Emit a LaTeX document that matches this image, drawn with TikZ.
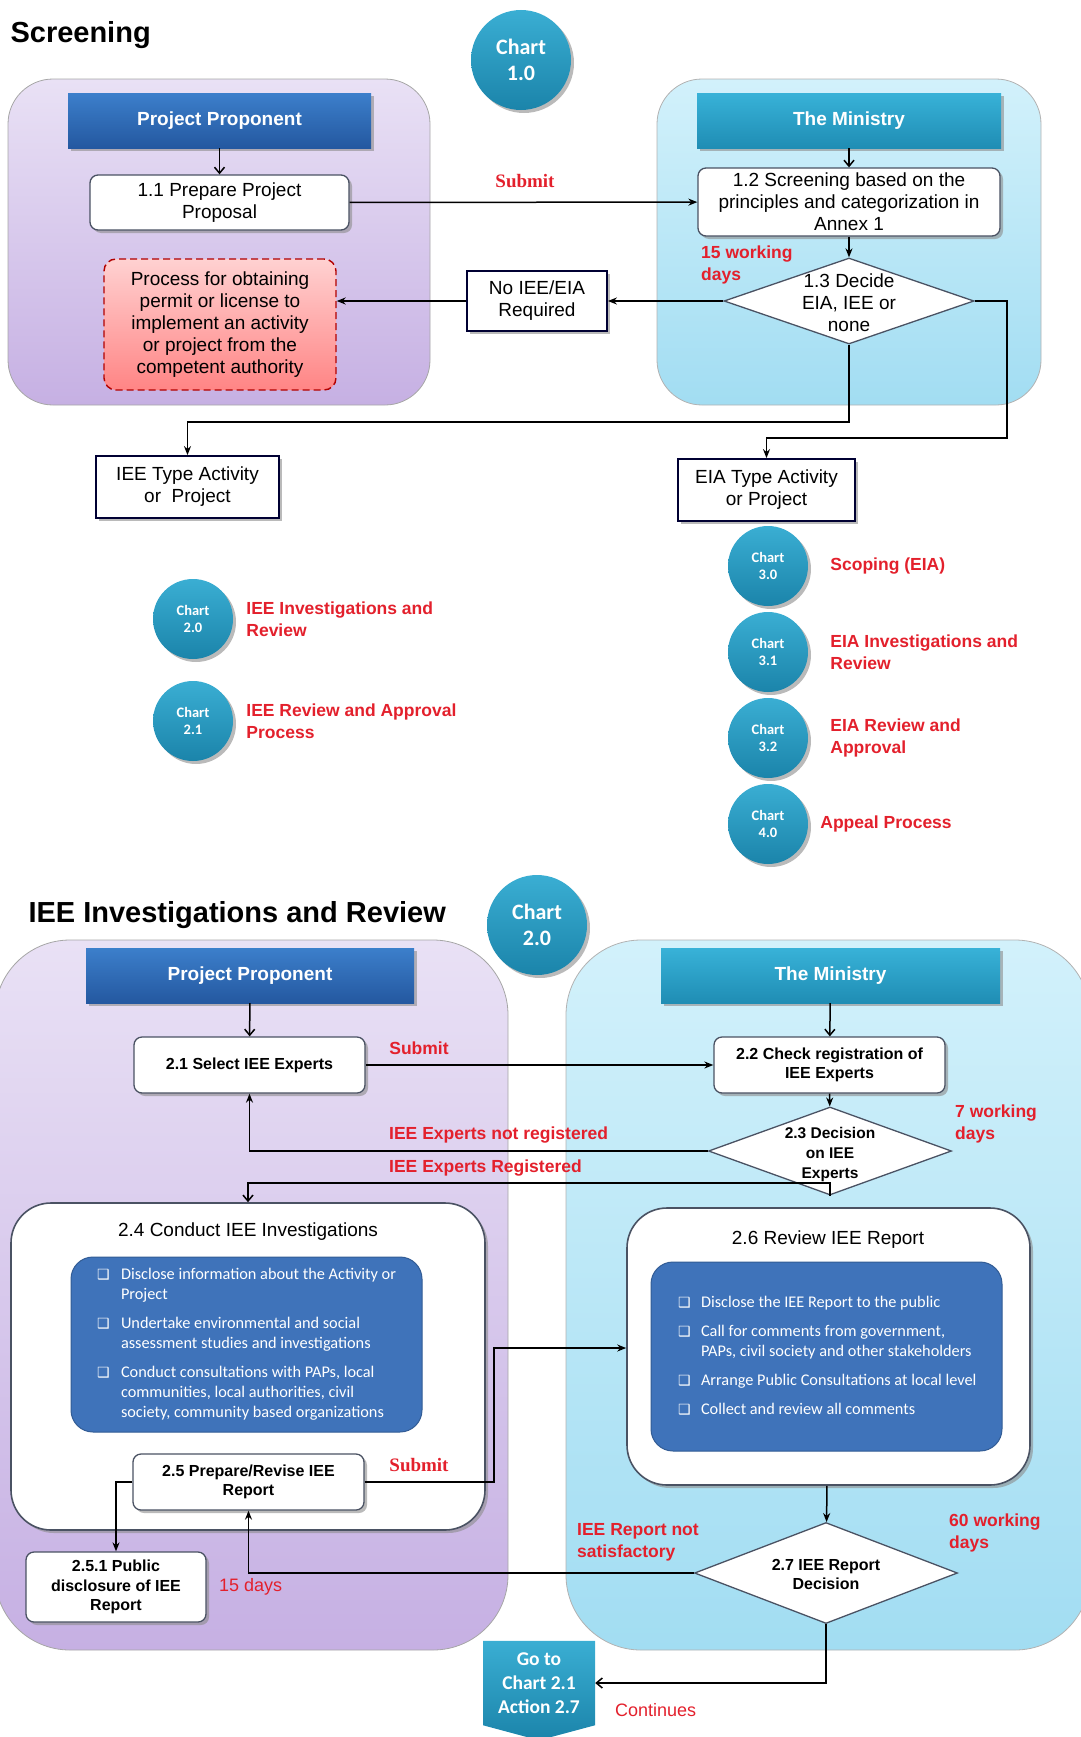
\documentclass[tikz,border=0pt]{standalone}
\usepackage{fontspec}
\setmainfont{Liberation Sans}
\newfontfamily\carlito{Carlito}
\newfontfamily\lserif{Liberation Serif}
\newfontfamily\djv{DejaVu Sans}
\usetikzlibrary{arrows.meta, positioning, shapes.geometric, shapes.symbols, shadows}

\definecolor{redtxt}{HTML}{E3202C}
\definecolor{ppTop}{HTML}{3C7FCB}
\definecolor{ppBot}{HTML}{2458A0}
\definecolor{minTop}{HTML}{38B2D8}
\definecolor{minBot}{HTML}{1F8DB4}
\definecolor{chTop}{HTML}{3AAED3}
\definecolor{chBot}{HTML}{1B84AA}
\definecolor{lavTop}{HTML}{E9E1F5}
\definecolor{lavBot}{HTML}{C6B0E3}
\definecolor{cyTop}{HTML}{D2F1FB}
\definecolor{cyBot}{HTML}{A2DDF2}
\definecolor{listBlue}{HTML}{3F73BA}
\definecolor{boxLine}{HTML}{4A5263}

\newcommand{\fs}[2]{\fontsize{#1}{#2}\selectfont}
\newcommand{\dtext}[1]{\makebox[0pt]{\smash{\raisebox{-0.45em}{\begin{tabular}{@{}c@{}}#1\end{tabular}}}}}
\newcommand{\sqb}{{\djv\fs{14}{14}❑}}

\begin{document}
\begin{tikzpicture}[
  x=1pt, y=-1pt,
  font=\fs{19}{22},
  shadowed/.style={drop shadow={shadow xshift=3pt, shadow yshift=-3pt, fill=black!45, opacity=0.6}},
  panelP/.style={draw=black!35, line width=0.8pt, top color=lavTop, bottom color=lavBot},
  panelM/.style={draw=black!30, line width=0.8pt, top color=cyTop, bottom color=cyBot},
  hdrPP/.style={top color=ppTop, bottom color=ppBot, text=white, font=\bfseries\fs{19}{22}, shadowed},
  hdrMin/.style={top color=minTop, bottom color=minBot, text=white, font=\bfseries\fs{19}{22}, shadowed},
  stepbox/.style={draw=boxLine, line width=1.3pt, fill=white, rounded corners=8pt, align=center, shadowed},
  stepboxb/.style={stepbox, font=\bfseries\fs{16}{19.5}},
  plainbox/.style={draw=black!80!blue, line width=1.8pt, fill=white, align=center, shadowed},
  pinkbox/.style={draw=red!70!black, dash pattern=on 7pt off 4pt, line width=1.4pt, top color=red!18, bottom color=red!48, rounded corners=12pt, align=center},
  bigbox/.style={draw=boxLine, line width=1.6pt, fill=white, rounded corners=40pt, shadowed},
  bluelist/.style={fill=listBlue, draw=listBlue!80!black, line width=1pt, rounded corners=22pt, text=white, font=\carlito\fs{16.3}{20}},
  decide/.style={diamond, draw=boxLine, line width=1.3pt, fill=white, inner sep=0pt},
  chartbig/.style={circle, top color=chTop, bottom color=chBot, text=white, align=center, font=\carlito\bfseries\fs{22}{26}, minimum size=100pt, inner sep=0pt, shadowed},
  chartsm/.style={circle, top color=chTop, bottom color=chBot, text=white, align=center, font=\carlito\bfseries\fs{14.5}{17}, minimum size=80pt, inner sep=0pt, shadowed},
  gotobox/.style={shape=signal, signal to=south, signal from=nowhere, signal pointer angle=150, top color=chTop, bottom color=chBot, text=white, align=center, font=\carlito\bfseries\fs{19.5}{24}, minimum width=112pt, minimum height=96pt, inner sep=2pt},
  redlbl/.style={text=redtxt, font=\bfseries\fs{17.5}{22}, align=left, inner sep=0pt},
  redplain/.style={text=redtxt, font=\fs{18}{22}, align=left, inner sep=0pt},
  redserif/.style={text=redtxt, font=\lserif\bfseries\fs{19}{22}, inner sep=0pt},
  arr/.style={-{Stealth[length=9pt, width=7pt]}, line width=1.5pt},
  varr/.style={-{Straight Barb[length=6pt, width=10pt]}, line width=1.5pt}
]
\useasboundingbox (0,0) rectangle (1080,1737);

\node[font=\bfseries\fs{29}{34}, anchor=west] (scrTitle) at (7,35) {Screening};
\node[panelP, rounded corners=45pt, minimum width=422pt, minimum height=326pt] (scrPP) at (219,242) {};
\node[panelM, rounded corners=45pt, minimum width=384pt, minimum height=326pt] (scrMin) at (849,242) {};
\node[chartbig] (ch10) at (521,60) {Chart\\1.0};

\node[hdrPP, minimum width=303pt, minimum height=55pt] (pp1) at (219.5,120.5) {Project Proponent};
\node[hdrMin, minimum width=304pt, minimum height=55pt] (min1) at (849,120.5) {The Ministry};
\node[stepbox, minimum width=259pt, minimum height=55pt] (s11) at (219.5,202.5) {1.1 Prepare Project\\Proposal};
\node[stepbox, minimum width=302pt, minimum height=68pt] (s12) at (849,202) {1.2 Screening based on the\\principles and categorization in\\Annex 1};
\node[decide, minimum width=250pt, minimum height=86pt] (d13) at (849,301) {\dtext{1.3 Decide\\EIA, IEE or\\none}};
\node[plainbox, minimum width=140pt, minimum height=60pt] (noiee) at (537,301) {No IEE/EIA\\Required};
\node[pinkbox, minimum width=232pt, minimum height=131pt] (permit) at (220,324.5) {Process for obtaining\\permit or license to\\implement an activity\\or project from the\\competent authority};
\node[plainbox, minimum width=183pt, minimum height=62pt] (ieetype) at (187.5,487) {IEE Type Activity\\or~ Project};
\node[plainbox, minimum width=177pt, minimum height=62pt] (eiatype) at (766.5,490) {EIA Type Activity\\or Project};

\coordinate (j1) at (849,422);
\coordinate (j2) at (1007,438);
\draw[varr] (pp1) -- (s11);
\draw[varr] (min1) -- (s12);
\draw[arr] (s11) -- (s12);
\draw[arr] (s12) -- (d13);
\draw[arr] (d13) -- (noiee);
\draw[arr] (noiee.west) -- (noiee.west -| permit.east);
\draw[arr] (d13.south) -- (j1) -| (ieetype.north);
\draw[arr] (d13.east) -| (j2) -| (eiatype.north);
\node[redserif] (sub1) at (525,181) {Submit};
\node[redlbl, anchor=north west] (wd15) at (701,246) {15 working\\days};

\node[chartsm] (ch30) at (768,566) {Chart\\3.0};
\node[chartsm] (ch31) at (768,652) {Chart\\3.1};
\node[chartsm] (ch32) at (768,738) {Chart\\3.2};
\node[chartsm] (ch40) at (768,824) {Chart\\4.0};
\node[chartsm] (ch20s) at (193,619) {Chart\\2.0};
\node[chartsm] (ch21s) at (193,721) {Chart\\2.1};
\node[redlbl, right=22pt of ch30] {Scoping (EIA)};
\node[redlbl, right=22pt of ch31] {EIA Investigations and\\Review};
\node[redlbl, right=22pt of ch32] {EIA Review and\\Approval};
\node[redlbl, right=12pt of ch40] {Appeal Process};
\node[redlbl, right=13pt of ch20s] {IEE Investigations and\\Review};
\node[redlbl, right=13pt of ch21s] {IEE Review and Approval\\Process};

\node[font=\bfseries\fs{29}{34}, anchor=west] (ievTitle) at (25,915) {IEE Investigations and Review};
\node[panelP, rounded corners=75pt, minimum width=513pt, minimum height=710pt] (ievPP) at (251.5,1295) {};
\node[panelM, rounded corners=75pt, minimum width=524pt, minimum height=710pt] (ievMin) at (828,1295) {};
\node[chartbig] (ch20) at (537,925) {Chart\\2.0};

\node[hdrPP, minimum width=328pt, minimum height=55pt] (pp2) at (250,975.5) {Project Proponent};
\node[hdrMin, minimum width=339pt, minimum height=55pt] (min2) at (830.5,975.5) {The Ministry};
\node[stepboxb, minimum width=231pt, minimum height=56pt] (s21) at (249.5,1065) {2.1 Select IEE Experts};
\node[stepboxb, minimum width=231pt, minimum height=56pt] (s22) at (829.5,1065) {2.2 Check registration of\\IEE Experts};
\node[decide, font=\bfseries\fs{15.5}{20}, minimum width=243pt, minimum height=88pt] (d23) at (830,1151) {\dtext{2.3 Decision\\on IEE\\Experts}};

\node[bigbox, minimum width=474pt, minimum height=327pt] (s24) at (248,1366.5) {};
\node[font=\fs{19}{22}] (t24) at (248,1232) {2.4 Conduct IEE Investigations};
\node[bluelist, minimum width=351pt, minimum height=175pt] (b24) at (246.5,1344.5) {%
  \begin{tabular}{@{}p{24pt}@{}p{300pt}@{\hspace{-25pt}}}
  \sqb & Disclose information about the Activity or\newline Project\\[9pt]
  \sqb & Undertake environmental and social\newline assessment studies and investigations\\[9pt]
  \sqb & Conduct consultations with PAPs, local\newline communities, local authorities, civil\newline society, community based organizations
  \end{tabular}};
\node[stepboxb, minimum width=231pt, minimum height=56pt] (s25) at (248.5,1482) {2.5 Prepare/Revise IEE\\Report};
\node[stepboxb, minimum width=180pt, minimum height=70pt] (s251) at (116,1587) {2.5.1 Public\\disclosure of IEE\\Report};

\node[bigbox, minimum width=403pt, minimum height=277pt] (s26) at (828.5,1346.5) {};
\node[font=\fs{19}{22}] (t26) at (828,1240) {2.6 Review IEE Report};
\node[bluelist, minimum width=351pt, minimum height=189pt] (b26) at (826.5,1356.5) {%
  \begin{tabular}{@{}p{23pt}@{}p{290pt}@{\hspace{-16pt}}}
  \sqb & Disclose the IEE Report to the public\\[9pt]
  \sqb & Call for comments from government,\newline PAPs, civil society and other stakeholders\\[9pt]
  \sqb & Arrange Public Consultations at local level\\[9pt]
  \sqb & Collect and review all comments
  \end{tabular}};
\node[decide, font=\bfseries\fs{16}{19.5}, minimum width=263pt, minimum height=101pt] (d27) at (826,1573) {\dtext{2.7 IEE Report\\Decision}};
\node[gotobox] (goto) at (539,1683) {Go to\\Chart 2.1\\Action 2.7};

\coordinate (j3) at (830,1183);
\coordinate (j4) at (494,1348);
\draw[varr] (pp2) -- (s21);
\draw[varr] (min2) -- (s22);
\draw[arr] (s21) -- (s22);
\draw[arr] (s22) -- (d23);
\draw[arr] (d23.west) -| (s21.south);
\draw[varr] (d23.south) -- (j3) -| (s24.north);
\draw[arr] (s25.east) -| (j4) -- (j4 -| s26.west);
\draw[arr] (s25.west) -| (s251.north);
\draw[arr] (s26) -- (d27);
\draw[arr] (d27.west) -| (s25.south);
\draw[varr] (d27.south) |- (goto.east);

\node[redlbl] (sub2) at (419,1048) {Submit};
\node[redlbl, anchor=west] (notreg) at (389,1135) {IEE Experts not registered};
\node[redlbl, anchor=west] (reg) at (389,1168) {IEE Experts Registered};
\node[redlbl, anchor=west] (wd7) at (955,1124) {7 working\\days};
\node[redserif] (sub3) at (419,1465) {Submit};
\node[redlbl, anchor=west] (notsat) at (577,1542) {IEE Report not\\satisfactory};
\node[redlbl, anchor=west] (wd60) at (949,1533) {60 working\\days};
\node[redplain, anchor=west] (d15) at (219,1587) {15 days};
\node[redplain, anchor=west] (cont) at (615,1710) {Continues};
\end{tikzpicture}
\end{document}
